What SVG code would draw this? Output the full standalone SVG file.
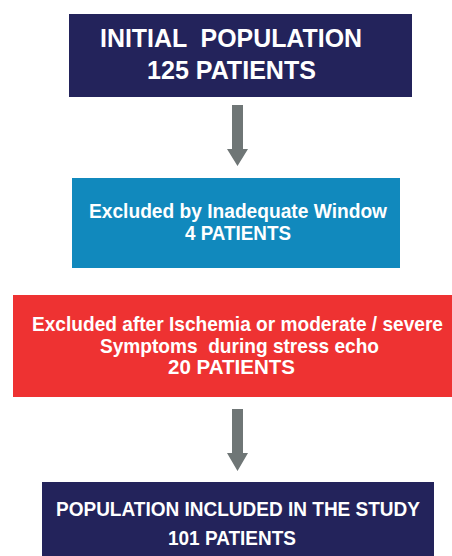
<svg xmlns="http://www.w3.org/2000/svg" width="452" height="556" viewBox="0 0 452 556">
<style>
text{font-family:"Liberation Sans",Arial,sans-serif;font-weight:bold;fill:#fff;text-anchor:middle}
.arrow{fill:#6f7676}
</style>
<rect width="452" height="556" fill="#fff"/>
<g id="initial">
<rect x="69" y="14" width="343" height="83" fill="#23235b"/>
<text x="231" y="47" font-size="25.5" xml:space="preserve" textLength="262" lengthAdjust="spacingAndGlyphs">INITIAL  POPULATION</text>
<text x="231.5" y="79" font-size="25.5" textLength="169" lengthAdjust="spacingAndGlyphs">125 PATIENTS</text>
</g>
<g id="window">
<rect x="72" y="178" width="328" height="90" fill="#1189bd"/>
<text x="238" y="218" font-size="20.5" textLength="298" lengthAdjust="spacingAndGlyphs">Excluded by Inadequate Window</text>
<text x="238" y="240" font-size="20.5" textLength="106" lengthAdjust="spacingAndGlyphs">4 PATIENTS</text>
</g>
<g id="ischemia">
<rect x="13" y="295" width="439" height="102" fill="#ee3232"/>
<text x="237.5" y="331" font-size="20.5" textLength="411" lengthAdjust="spacingAndGlyphs">Excluded after Ischemia or moderate / severe</text>
<text x="239.5" y="353" font-size="20.5" xml:space="preserve" textLength="279" lengthAdjust="spacingAndGlyphs">Symptoms  during stress echo</text>
<text x="231.5" y="374" font-size="20.5" textLength="127" lengthAdjust="spacingAndGlyphs">20 PATIENTS</text>
</g>
<g id="included">
<rect x="42" y="482" width="392" height="80" fill="#23235b"/>
<text x="238" y="516" font-size="20.5" textLength="364" lengthAdjust="spacingAndGlyphs">POPULATION INCLUDED IN THE STUDY</text>
<text x="232" y="545" font-size="20.5" textLength="128" lengthAdjust="spacingAndGlyphs">101 PATIENTS</text>
</g>
<g id="connectors">
<polygon class="arrow" points="232,105 243,105 243,149 248,149 237.5,166 227,149 232,149"/>
<polygon class="arrow" points="232,409 243,409 243,453 248,453 237.5,471 227,453 232,453"/>
</g>
</svg>
